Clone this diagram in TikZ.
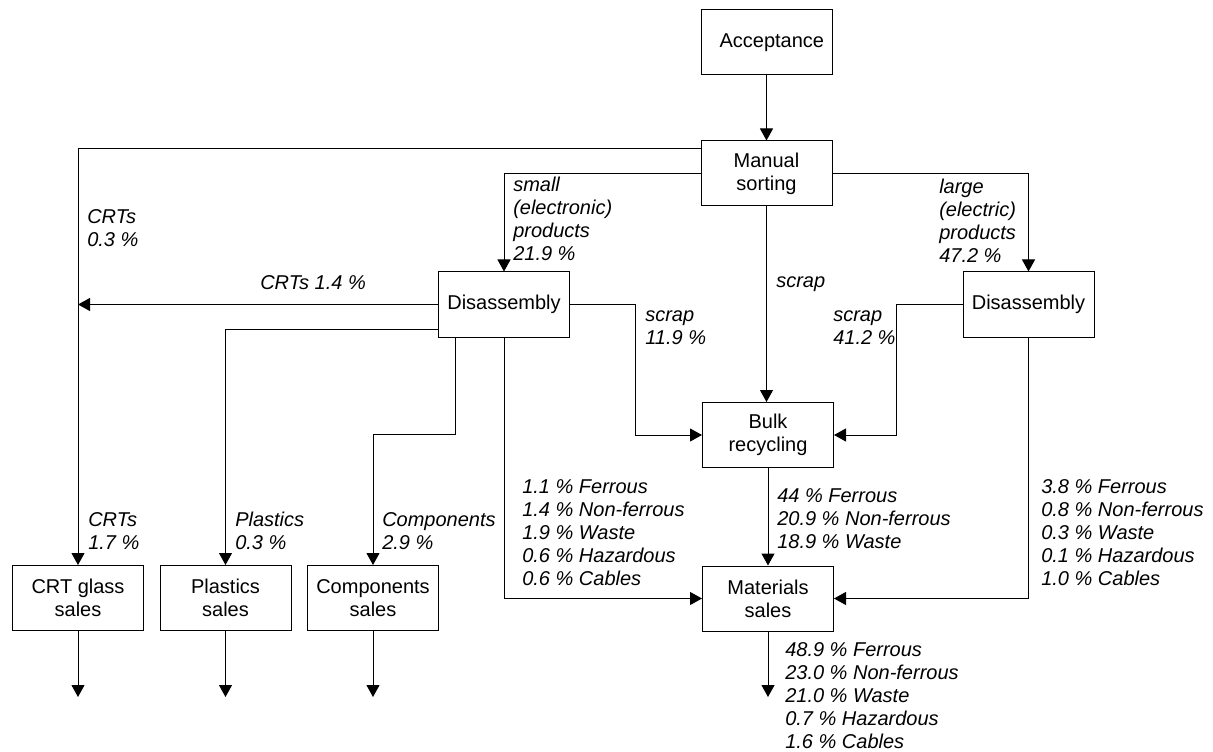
\documentclass[tikz,border=0pt]{standalone}
\usepackage{fontspec}
\setmainfont{Liberation Sans}
\usetikzlibrary{arrows.meta,calc}

\newcommand{\labelfont}{\fontsize{15pt}{17.25pt}\selectfont}

\tikzset{
  box/.style={draw, line width=0.75pt, minimum width=98.25pt, minimum height=48.75pt,
    inner sep=0pt, align=center},
  arr/.style={line width=0.75pt, -{Triangle[width=9.75pt,length=9pt]}},
  lbl/.style={anchor=west, inner sep=0pt, align=left, font=\labelfont\itshape},
}

\begin{document}
\begin{tikzpicture}[x=0.75pt, y=-0.75pt, font=\labelfont]
\useasboundingbox (0,0) rectangle (1213,752);

% process boxes
\node[box] (acc)  at (766.5,42.5) {\hspace*{8pt}Acceptance};
\node[box] (sort) at (766.5,173.5) {Manual\\sorting};
\node[box] (dis1) at (504,304.5) {Disassembly};
\node[box] (dis2) at (1028.5,304.5) {Disassembly};
\node[box] (bulk) at (768,435) {Bulk\\recycling};
\node[box] (mat)  at (768,598.5) {Materials\\sales};
\node[box] (crt)  at (78,598) {CRT glass\\sales};
\node[box] (pla)  at (225.5,598) {Plastics\\sales};
\node[box] (com)  at (373,598) {Components\\sales};

% free ends of the outgoing flows
\coordinate (crtout) at (78,697);
\coordinate (plaout) at (225.5,697);
\coordinate (comout) at (373,697);
\coordinate (matout) at (768,697);

% flows
\draw[arr] (acc) -- (sort);
\draw[arr] ($(sort.north west)+(0,8)$) -| (crt.north);
\draw[arr] (sort.west) -| (dis1.north);
\draw[arr] (sort.east) -| (dis2.north);
\draw[arr] (sort.south) -- (sort.south |- bulk.north);
\draw[arr] (dis1.west) -- (dis1.west -| crt.north);
\draw[arr] ($(dis1.south west)+(0,-8)$) -| (pla.north);
\draw[arr] ($(dis1.south west)+(17,0)$) -- ++(0,97) -| (com.north);
\draw[arr] (dis1.south) |- (mat.west);
\draw[arr] (dis1.east) -- ++(65,0) |- (bulk.west);
\draw[arr] (dis2.west) -- ++(-66,0) |- (bulk.east);
\draw[arr] (dis2.south) |- (mat.east);
\draw[arr] (bulk) -- (mat);
\draw[arr] (crt.south) -- (crtout);
\draw[arr] (pla.south) -- (plaout);
\draw[arr] (com.south) -- (comout);
\draw[arr] (mat.south) -- (matout);

% flow labels
\node[lbl] (l1)  at (87,228.5) {CRTs\\0.3 \%};
\node[lbl] (l2)  at (260,283) {CRTs 1.4 \%};
\node[lbl] (l3)  at (513,218.5) {small\\(electronic)\\products\\21.9 \%};
\node[lbl] (l4)  at (776,284) {scrap};
\node[lbl] (l5)  at (645,327.5) {scrap\\11.9 \%};
\node[lbl] (l6)  at (833,327.5) {scrap\\41.2 \%};
\node[lbl] (l7)  at (939,220.5) {large\\(electric)\\products\\47.2 \%};
\node[lbl] (l8)  at (88,531) {CRTs\\1.7 \%};
\node[lbl] (l9)  at (235,531) {Plastics\\0.3 \%};
\node[lbl] (l10) at (382,531) {Components\\2.9 \%};
\node[lbl] (l11) at (522,533) {1.1 \% Ferrous\\1.4 \% Non-ferrous\\1.9 \% Waste\\0.6 \% Hazardous\\0.6 \% Cables};
\node[lbl] (l12) at (777,519) {44 \% Ferrous\\20.9 \% Non-ferrous\\18.9 \% Waste};
\node[lbl] (l13) at (1041,533) {3.8 \% Ferrous\\0.8 \% Non-ferrous\\0.3 \% Waste\\0.1 \% Hazardous\\1.0 \% Cables};
\node[lbl] (l14) at (785,696) {48.9 \% Ferrous\\23.0 \% Non-ferrous\\21.0 \% Waste\\0.7 \% Hazardous\\1.6 \% Cables};
\end{tikzpicture}
\end{document}
